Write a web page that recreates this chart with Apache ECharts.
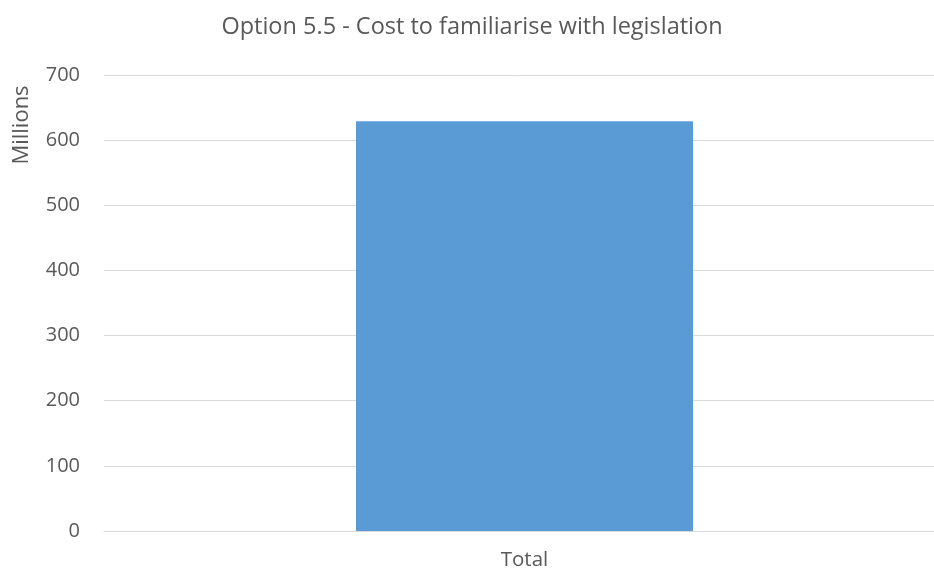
<!DOCTYPE html>
<html><head><meta charset="utf-8">
<script src="https://cdn.jsdelivr.net/npm/echarts@6/dist/echarts.min.js"></script>
<style>html,body{margin:0;padding:0;background:#fff}#c{width:934px;height:572px}</style>
</head><body><div id="c"></div>
<script>
const title = "Option 5.5 - Cost to familiarise with legislation";
const categories = ["Total"];
const values = [629];
const yTicks = [0, 700, 100]; // min, max, interval
const yName = "Millions";

const font = "'Open Sans', Lato, sans-serif";
const chart = echarts.init(document.getElementById('c'));
chart.setOption({
  animation: false,
  title: { text: title, left: 467, top: 10, textAlign: 'center',
    textStyle: { fontFamily: font, fontSize: 23.5, fontWeight: 'normal', color: '#595959' } },
  grid: { left: 104, top: 75, width: 841, height: 456, outerBoundsMode: 'none', containLabel: false },
  xAxis: { type: 'category', data: categories,
    axisLine: { lineStyle: { color: '#d9d9d9', width: 1 } }, axisTick: { show: false },
    axisLabel: { fontFamily: font, fontSize: 20.5, color: '#595959', margin: 19 } },
  yAxis: { type: 'value', min: yTicks[0], max: yTicks[1], interval: yTicks[2],
    axisLine: { show: false }, axisTick: { show: false },
    splitLine: { lineStyle: { color: '#d9d9d9', width: 1 } },
    axisLabel: { fontFamily: font, fontSize: 20, color: '#595959', margin: 24 } },
  graphic: [{ type: 'text', x: 22, y: 125, rotation: Math.PI/2,
    style: { text: yName, fontFamily: font, fontSize: 22, fill: '#595959', align: 'center', verticalAlign: 'middle' } }],
  series: [{ type: 'bar', data: values, barWidth: 337,
    itemStyle: { color: '#5B9BD5' } }]
});
</script></body></html>
